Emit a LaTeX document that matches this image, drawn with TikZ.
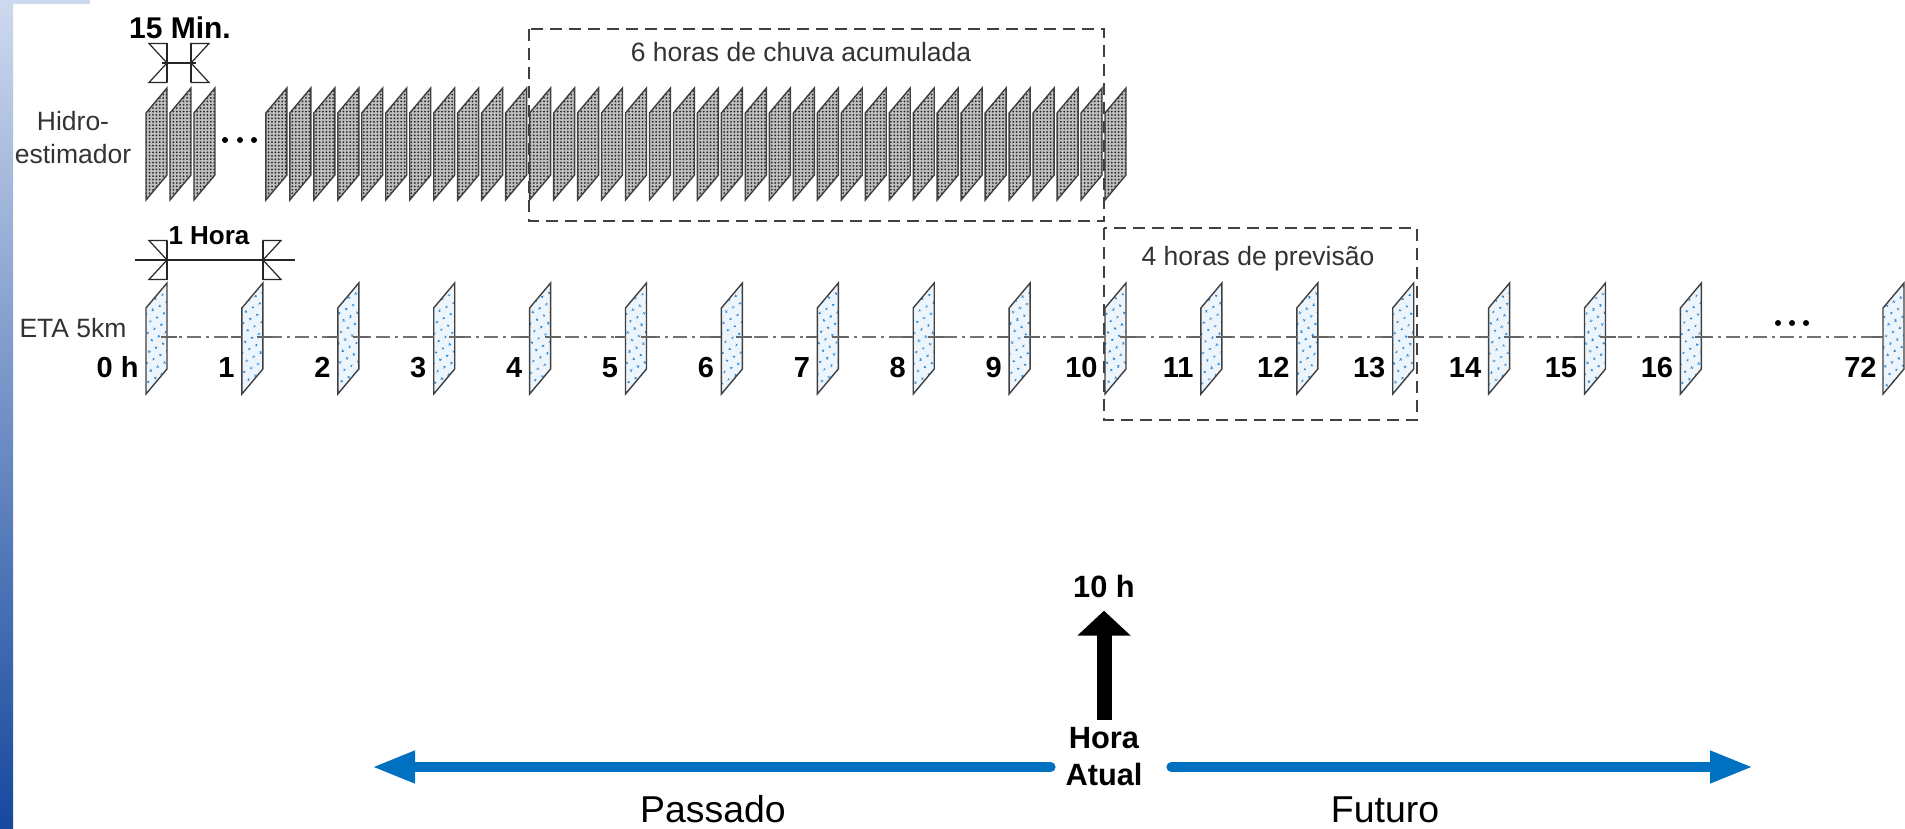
\documentclass[tikz,border=0pt]{standalone}
\usepackage{fontspec}
\setmainfont{Liberation Sans}
\usetikzlibrary{arrows.meta,patterns.meta}
\definecolor{timeblue}{RGB}{0,112,192}
\definecolor{etadot}{RGB}{45,135,210}
\definecolor{etafill}{RGB}{236,244,252}
\definecolor{barlight}{RGB}{205,217,238}
\definecolor{bardark}{RGB}{22,72,158}
\tikzset{
	hidroslab/.style={draw=black!75, line width=0.7pt, preaction={fill=black!25}, pattern={Dots[distance=1.7pt,radius=0.5pt]}, pattern color=black!85},
	etaslab/.style={draw=black!75, line width=0.7pt, preaction={fill=etafill}, pattern={Dots[distance=4pt,radius=0.65pt,angle=30]}, pattern color=etadot},
	dashbox/.style={draw=black!75, line width=0.9pt, dash pattern=on 6pt off 3.5pt},
	axisline/.style={draw=black!55, line width=1.2pt, dash pattern=on 7pt off 2.5pt on 1.5pt off 2.5pt},
	axistick/.style={draw=black!60, line width=1.2pt},
	dimline/.style={draw=black!85, line width=0.7pt},
	dimtri/.style={draw=black!85, line width=0.6pt, fill=white},
	hourlbl/.style={font=\fontsize{14.5}{17}\selectfont\bfseries, inner sep=0pt, anchor=base east},
	plainlbl/.style={font=\fontsize{13.25}{16.5}\selectfont, text=black!80, inner sep=0pt},
	nowlbl/.style={font=\fontsize{15.4}{18.5}\selectfont\bfseries, inner sep=0pt},
	timelbl/.style={font=\fontsize{18.7}{22}\selectfont, inner sep=0pt, anchor=base},
	timearrow/.style={draw=timeblue, line width=5pt, line cap=round, -{Triangle[length=21.5pt,width=15pt]}},
	nowarrow/.style={line width=7.5pt, -{Triangle[length=12.5pt,width=26pt]}},
	dimleft/.pic={
		\draw[dimtri] (0,-19.5) -- (-18,-19.5) -- (0,0) -- cycle;
		\draw[dimtri] (0,0) -- (-18,19.5) -- (0,19.5) -- cycle;
		\draw[dimline] (0,-19.5) -- (0,19.5);
	},
	dimright/.pic={
		\draw[dimtri] (0,-19.5) -- (18,-19.5) -- (0,0) -- cycle;
		\draw[dimtri] (0,0) -- (18,19.5) -- (0,19.5) -- cycle;
		\draw[dimline] (0,-19.5) -- (0,19.5);
	}
}
\begin{document}
\begin{tikzpicture}[x=0.5pt, y=-0.5pt]
	\useasboundingbox (0,0) rectangle (1905,829);
	\fill[white] (0,0) rectangle (1905,829);
	\shade[top color=barlight, bottom color=bardark] (0,0) rectangle (13,829);
	\fill[barlight] (0,0) rectangle (90,4);

	% Hidro-estimador, 15 min
	\node[plainlbl, align=center] (hidrolbl) at (73,138) {Hidro-\\estimador};
	\foreach \k in {0,1,2,5,6,...,40} {
		\pgfmathsetmacro\xh{146+23.975*\k}
		\draw[hidroslab] (\xh,200) -- ++(0,-87) -- ++(21,-25) -- ++(0,87) -- cycle;
	}
	\fill (225,140) circle (3) (240,140) circle (3) (254,140) circle (3);
	\coordinate (qa) at (167,63);
	\coordinate (qb) at (191,63);
	\draw[dimline] ([xshift=-2.5pt]qa) -- ([xshift=2.5pt]qb);
	\pic at (qa) {dimleft};
	\pic at (qb) {dimright};
	\node[nowlbl, font=\fontsize{15}{18}\selectfont\bfseries, anchor=base] (quinzemin) at (180,39) {15 Min.};

	% ETA 5km, 1 h
	\node[plainlbl, anchor=base] (etalbl) at (73,337) {ETA 5km};
	\draw[axisline] (160,337) -- (1883,337);
	\foreach \h in {0,...,16} {
		\pgfmathsetmacro\xl{146+95.9*\h}
		\draw[etaslab] (\xl,394) -- ++(0,-86) -- ++(21,-25) -- ++(0,86) -- cycle;
		\draw[axistick] (\xl+15,337) -- (\xl+31,337);
		\ifnum\h>0 \draw[axistick] (\xl-11,337) -- (\xl,337); \fi
		\node[hourlbl] (hr\h) at (\xl-7,377) {\ifnum\h=0 0 h\else\h\fi};
	}
	\draw[etaslab] (1883,394) -- ++(0,-86) -- ++(21,-25) -- ++(0,86) -- cycle;
	\draw[axistick] (1872,337) -- (1883,337);
	\node[hourlbl] (hr72) at (1877,377) {72};
	\fill (1778,323) circle (3) (1792,323) circle (3) (1806,323) circle (3);
	\coordinate (ha) at (167,260);
	\coordinate (hb) at (263,260);
	\draw[dimline] ([xshift=-16pt]ha) -- ([xshift=16pt]hb);
	\pic at (ha) {dimleft};
	\pic at (hb) {dimright};
	\node[nowlbl, font=\fontsize{13}{16}\selectfont\bfseries, anchor=base] (umahora) at (209,244) {1 Hora};

	% janelas
	\draw[dashbox] (529,29) rectangle (1104,221);
	\node[plainlbl, anchor=base] (chuvatxt) at (801,62) {6 horas de chuva acumulada};
	\draw[dashbox] (1104,228) rectangle (1417,420);
	\node[plainlbl, anchor=base] (previsaotxt) at (1258,265) {4 horas de previsão};

	% hora atual
	\node[nowlbl, anchor=base] (dezh) at (1104,597) {10 h};
	\node[nowlbl, align=center] (horaatual) at (1104,757) {Hora\\Atual};
	\draw[nowarrow] ([yshift=3.5pt]horaatual.north) -- ([yshift=-6.5pt]dezh.south);
	\coordinate (passado) at (372,767);
	\coordinate (futuro) at (1753,767);
	\draw[timearrow] ([xshift=-7.25pt]horaatual.west |- passado) -- (passado);
	\draw[timearrow] ([xshift=14.25pt]horaatual.east |- futuro) -- (futuro);
	\node[timelbl] (passadotxt) at (713,822) {Passado};
	\node[timelbl] (futurotxt) at (1385,822) {Futuro};
\end{tikzpicture}
\end{document}
